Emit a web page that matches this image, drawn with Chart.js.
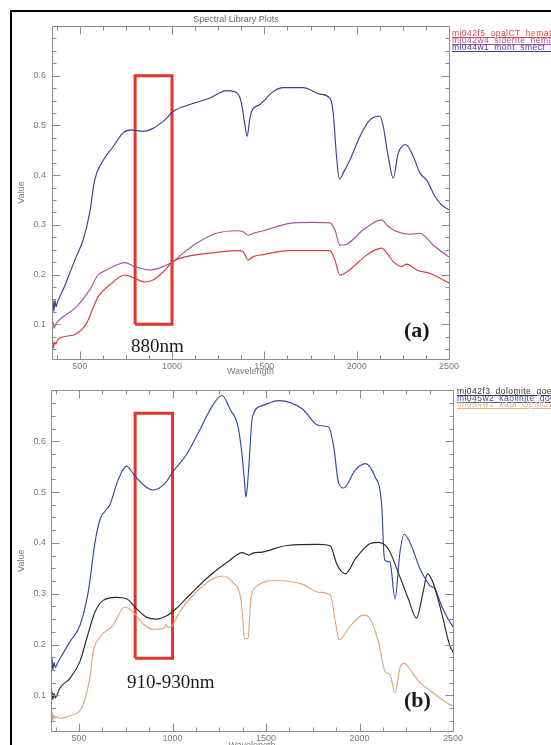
<!DOCTYPE html>
<html><head><meta charset="utf-8">
<script src="https://cdn.jsdelivr.net/npm/chart.js@4.4.1/dist/chart.umd.min.js"></script>
<style>
html,body{margin:0;padding:0;width:551px;height:745px;overflow:hidden;background:#fff;position:relative;}
#frame{position:absolute;left:10px;top:10px;width:700px;height:800px;border-left:2px solid #000;border-top:2px solid #000;box-sizing:border-box;}
canvas{position:absolute;left:0;}
#ca{top:0;} #cb{top:380px;}
.title{position:absolute;top:14px;left:0;width:472px;text-align:center;font:9px "Liberation Sans",sans-serif;color:#666;line-height:11px;}
.leg{position:absolute;font:8.5px "Liberation Sans",sans-serif;text-decoration:underline;white-space:nowrap;line-height:7px;letter-spacing:0.45px;}
.ann{position:absolute;font-family:"Liberation Serif",serif;white-space:nowrap;color:#1a1a1a;line-height:1;}
</style></head>
<body>
<div id="frame"></div>
<canvas id="ca" width="551" height="380"></canvas>
<canvas id="cb" width="551" height="375"></canvas>
<div class="title">Spectral Library Plots</div>
<div class="leg" style="left:452px;top:30px;color:#d0504a">mi042f5_opalCT_hematite</div>
<div class="leg" style="left:452px;top:36.8px;color:#b0509e">mi042w4_siderite_hematite</div>
<div class="leg" style="left:452px;top:43.5px;color:#3d3f8f">mi044w1_mont_smect_hematite</div>
<div class="leg" style="left:457px;top:388px;color:#333">mi042f3_dolomite_goethite</div>
<div class="leg" style="left:457px;top:394.5px;color:#3a4ea6">mi045w2_kaolinite_goethite</div>
<div class="leg" style="left:457px;top:401px;color:#e6b48c">mi054w1_kaol_OpalCT_goethite</div>
<div class="ann" style="left:131px;top:336px;font-size:19px">880nm</div>
<div class="ann" style="left:404px;top:319px;font-size:22px;font-weight:bold">(a)</div>
<div class="ann" style="left:127px;top:672px;font-size:19px">910-930nm</div>
<div class="ann" style="left:404px;top:689px;font-size:22px;font-weight:bold">(b)</div>
<script>
// ---------- tick labels ----------
const xTickLabels = [500, 1000, 1500, 2000, 2500];
const yTickLabels = [0.1, 0.2, 0.3, 0.4, 0.5, 0.6];
const xMinorStep = 125;
const yMinorStep = 0.025;

// ---------- panel (a) ----------
const aBlueWl  = [350,355,360,366,372,380,392,420,446,480,518,554,581,618,681,735,780,843,897,961,1006,1096,1205,1295,1349,1376,1395,1407,1420,1431,1476,1548,1602,1710,1801,1855,1873,1891,1906,1935,1964,2018,2072,2126,2144,2171,2198,2225,2267,2307,2343,2379,2424,2460,2500];
const aBlueVal = [0.13,0.15,0.125,0.148,0.135,0.145,0.155,0.178,0.203,0.235,0.269,0.324,0.39,0.424,0.457,0.485,0.491,0.488,0.494,0.511,0.528,0.542,0.555,0.570,0.566,0.545,0.50,0.478,0.51,0.528,0.542,0.568,0.576,0.576,0.563,0.555,0.525,0.437,0.392,0.41,0.431,0.478,0.511,0.519,0.498,0.437,0.394,0.444,0.461,0.437,0.404,0.39,0.357,0.34,0.33];

const aMagWl  = [350,355,362,370,380,410,482,554,599,645,699,744,798,880,952,1006,1060,1133,1241,1349,1385,1412,1440,1494,1638,1750,1855,1882,1909,1946,2036,2135,2170,2207,2289,2343,2415,2500];
const aMagVal = [0.098,0.105,0.092,0.1,0.105,0.115,0.135,0.169,0.199,0.209,0.219,0.224,0.216,0.209,0.216,0.226,0.243,0.263,0.283,0.288,0.286,0.279,0.283,0.288,0.303,0.305,0.304,0.29,0.259,0.261,0.290,0.31,0.297,0.288,0.281,0.283,0.259,0.235];

const aRedWl  = [350,354,358,363,370,380,392,482,536,570,599,663,744,789,852,897,952,1006,1078,1205,1358,1385,1412,1440,1494,1629,1855,1882,1909,1964,2054,2135,2170,2198,2243,2271,2325,2397,2500];
const aRedVal = [0.058,0.068,0.052,0.064,0.06,0.068,0.072,0.081,0.101,0.13,0.155,0.179,0.199,0.194,0.185,0.189,0.205,0.226,0.236,0.243,0.248,0.246,0.229,0.236,0.240,0.248,0.248,0.229,0.199,0.210,0.239,0.253,0.24,0.226,0.216,0.221,0.209,0.202,0.183];

const boxAWl  = [800, 800, 1000, 1000, 800];
const boxAVal = [0.1, 0.6, 0.6, 0.1, 0.1];

// ---------- panel (b) ----------
const bBlueWl  = [350,355,360,366,373,380,399,452,505,549,585,612,665,709,754,789,833,895,957,1002,1073,1144,1214,1264,1312,1347,1371,1385,1392,1400,1409,1427,1480,1569,1693,1782,1835,1862,1888,1915,1977,2030,2083,2119,2130,2137,2163,2190,2216,2239,2278,2323,2358,2376,2403,2438,2473,2500];
const bBlueVal = [0.155,0.175,0.15,0.165,0.155,0.16,0.173,0.206,0.238,0.303,0.40,0.446,0.475,0.524,0.551,0.537,0.518,0.504,0.516,0.540,0.573,0.621,0.670,0.690,0.660,0.634,0.576,0.52,0.49,0.51,0.556,0.647,0.670,0.680,0.664,0.631,0.628,0.589,0.518,0.508,0.543,0.556,0.530,0.472,0.38,0.365,0.362,0.290,0.381,0.417,0.394,0.349,0.326,0.316,0.310,0.277,0.251,0.235];

const bBlackWl  = [350,355,360,366,373,380,399,452,505,541,585,629,700,754,807,860,913,966,1020,1090,1197,1303,1374,1395,1410,1430,1480,1613,1782,1844,1879,1924,1977,2048,2101,2154,2207,2261,2305,2340,2363,2393,2438,2482,2500];
const bBlackVal = [0.1,0.108,0.092,0.104,0.095,0.1,0.115,0.134,0.167,0.212,0.264,0.287,0.293,0.290,0.271,0.254,0.250,0.256,0.271,0.297,0.335,0.365,0.381,0.378,0.376,0.38,0.382,0.395,0.397,0.394,0.358,0.339,0.368,0.397,0.401,0.388,0.342,0.290,0.252,0.303,0.339,0.322,0.264,0.199,0.185];

const bOrangeWl  = [350,355,360,366,373,380,400,450,500,520,541,560,576,612,682,745,789,842,895,957,966,975,993,1037,1126,1214,1268,1321,1365,1376,1383,1404,1412,1419,1445,1552,1693,1782,1844,1871,1892,1941,2021,2048,2101,2137,2163,2190,2216,2239,2278,2323,2376,2430,2482,2500];
const bOrangeVal = [0.055,0.07,0.05,0.062,0.055,0.058,0.055,0.06,0.068,0.08,0.105,0.14,0.186,0.215,0.238,0.274,0.264,0.241,0.230,0.233,0.241,0.234,0.235,0.264,0.303,0.329,0.335,0.323,0.290,0.25,0.212,0.212,0.25,0.290,0.313,0.326,0.319,0.303,0.297,0.245,0.209,0.232,0.258,0.255,0.206,0.147,0.141,0.105,0.154,0.163,0.147,0.125,0.11,0.095,0.082,0.08];

const boxBWl  = [800, 800, 1000, 1000, 800];
const boxBVal = [0.173, 0.655, 0.655, 0.173, 0.173];

// ---------- helpers ----------
const pts = (xs, ys) => xs.map((x, i) => ({x: x, y: ys[i]}));
function spectrum(xs, ys, color) {
  return {data: pts(xs, ys), showLine: true, borderColor: color, borderWidth: 1.15,
          pointRadius: 0, cubicInterpolationMode: 'monotone', fill: false};
}
function box(xs, ys) {
  return {data: pts(xs, ys), showLine: true, borderColor: '#e8322a', borderWidth: 3,
          pointRadius: 0, tension: 0, borderJoinStyle: 'miter', fill: false};
}

const idlAxes = {
  id: 'idlAxes',
  afterDraw(chart) {
    const {ctx, chartArea: a, scales: {x, y}} = chart;
    ctx.save();
    ctx.strokeStyle = '#8c8c8c';
    ctx.lineWidth = 1;
    const L = Math.round(a.left) + 0.5, R = Math.round(a.right) + 0.5;
    const T = Math.round(a.top) + 0.5, B = Math.round(a.bottom) + 0.5;
    ctx.beginPath();
    ctx.rect(L, T, R - L, B - T);
    const xmin = x.min, xmax = x.max, ymin = y.min, ymax = y.max;
    for (let v = 500 - xMinorStep; v <= xmax + 1e-6; v += xMinorStep) {
      if (v < xmin) continue;
      const major = xTickLabels.some(t => Math.abs(t - v) < 1e-6);
      const len = major ? 8 : 4;
      const px = Math.round(x.getPixelForValue(v)) + 0.5;
      ctx.moveTo(px, B); ctx.lineTo(px, B - len);
      ctx.moveTo(px, T); ctx.lineTo(px, T + len);
    }
    for (let k = Math.ceil(ymin / yMinorStep); k * yMinorStep <= ymax + 1e-9; k++) {
      const v = k * yMinorStep;
      const major = yTickLabels.some(t => Math.abs(t - v) < 1e-6);
      const len = major ? 8 : 4;
      const py = Math.round(y.getPixelForValue(v)) + 0.5;
      ctx.moveTo(L, py); ctx.lineTo(L + len, py);
      ctx.moveTo(R, py); ctx.lineTo(R - len, py);
    }
    ctx.stroke();
    ctx.restore();
  }
};

const tickFont = {family: 'Liberation Sans', size: 9};
function makeChart(id, datasets, g) {
  return new Chart(document.getElementById(id), {
    type: 'scatter',
    data: {datasets: datasets},
    options: {
      responsive: false, animation: false, devicePixelRatio: 1,
      layout: {padding: {left: 0, top: g.top, right: g.right, bottom: 0}},
      plugins: {legend: {display: false}, tooltip: {enabled: false}},
      scales: {
        x: {
          type: 'linear', min: 350, max: 2500,
          afterBuildTicks: s => { s.ticks = xTickLabels.map(v => ({value: v})); },
          afterFit: s => { s.height = g.xh; },
          grid: {display: false, drawTicks: false}, border: {display: false},
          ticks: {padding: 2, color: '#7a7a7a', font: tickFont, maxRotation: 0, autoSkip: false,
                  callback: v => String(v)},
          title: {display: true, text: 'Wavelength', color: '#7a7a7a', font: tickFont,
                  padding: {top: 0, bottom: g.xtb}}
        },
        y: {
          type: 'linear', min: 0.03, max: 0.70,
          afterBuildTicks: s => { s.ticks = yTickLabels.map(v => ({value: v})); },
          afterFit: s => { s.width = g.yw; },
          grid: {display: false, drawTicks: false}, border: {display: false},
          ticks: {padding: g.ypad, color: '#7a7a7a', font: tickFont, autoSkip: false,
                  callback: v => Number(v).toFixed(1)},
          title: {display: true, text: 'Value', color: '#7a7a7a', font: tickFont,
                  padding: {top: 16.6, bottom: 0}}
        }
      }
    },
    plugins: [idlAxes]
  });
}

makeChart('ca', [
  spectrum(aRedWl, aRedVal, '#d8403c'),
  spectrum(aMagWl, aMagVal, '#b0509e'),
  spectrum(aBlueWl, aBlueVal, '#3d3f8f'),
  box(boxAWl, boxAVal)
], {top: 26, right: 102, xh: 21, yw: 52, xtb: 2.6, ypad: 6});

makeChart('cb', [
  spectrum(bOrangeWl, bOrangeVal, '#e2a57c'),
  spectrum(bBlackWl, bBlackVal, '#2a2a2a'),
  spectrum(bBlueWl, bBlueVal, '#3548a0'),
  box(boxBWl, boxBVal)
], {top: 9, right: 98, xh: 24, yw: 51, xtb: 4.1, ypad: 5});
</script>
</body></html>
